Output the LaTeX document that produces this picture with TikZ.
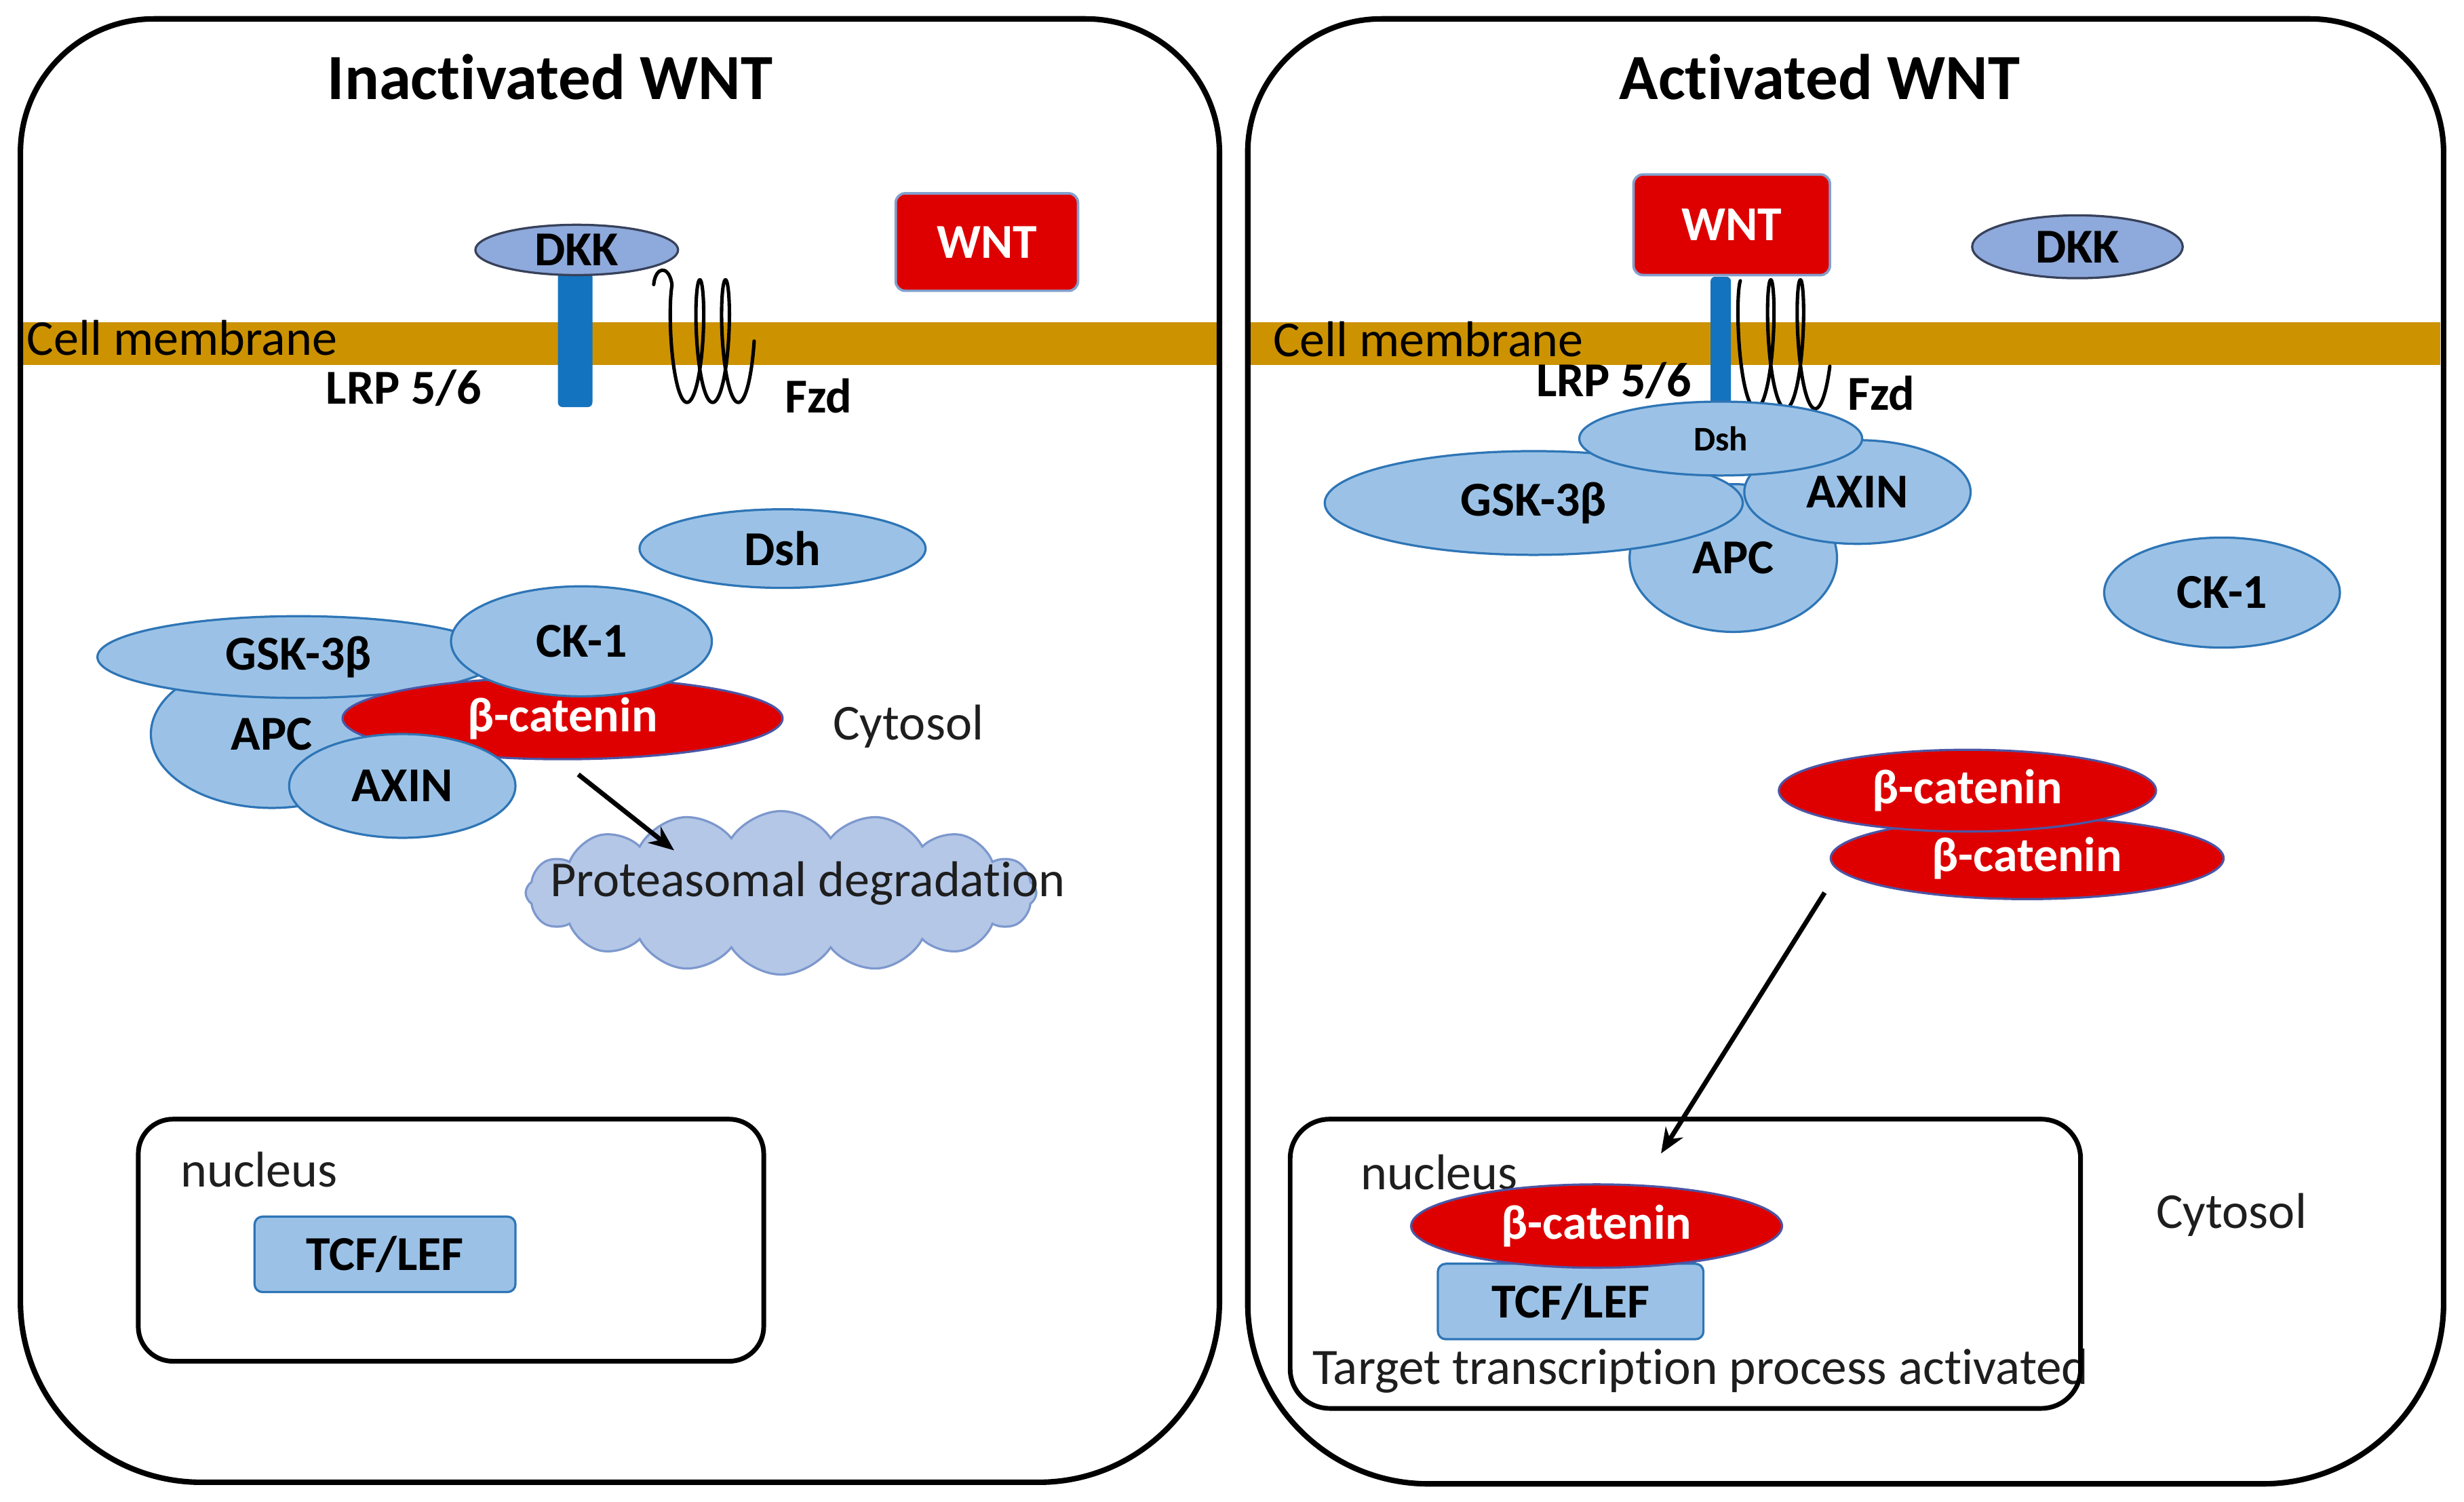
\documentclass[tikz,border=0pt]{standalone}
\usepackage{fontspec}
\setmainfont{Carlito}[Ligatures=NoCommon]
\usetikzlibrary{shapes.geometric,shapes.symbols,arrows.meta,calc}
\definecolor{memb}{RGB}{204,146,0}
\definecolor{protfill}{RGB}{155,194,230}
\definecolor{protline}{RGB}{46,117,182}
\definecolor{dkkfill}{RGB}{142,169,219}
\definecolor{dkkline}{RGB}{55,65,90}
\definecolor{wred}{RGB}{222,0,0}
\definecolor{redline}{RGB}{75,85,165}
\definecolor{wntline}{RGB}{130,160,205}
\definecolor{lrp}{RGB}{20,115,190}
\definecolor{cloudfill}{RGB}{180,199,231}
\definecolor{cloudline}{RGB}{125,152,205}
\definecolor{txt}{RGB}{30,30,30}
\begin{document}
\begin{tikzpicture}[x=1pt,y=-1pt,
 cellbox/.style={line width=3.5pt},
 nucbox/.style={draw, line width=3pt, rounded corners=22pt, inner sep=0pt},
 prot/.style={ellipse, draw=protline, fill=protfill, line width=1.4pt, inner sep=0pt, text=black, font=\bfseries\fontsize{31}{36}\selectfont},
 dkk/.style={ellipse, draw=dkkline, fill=dkkfill, line width=1.4pt, inner sep=0pt, font=\bfseries\fontsize{31}{36}\selectfont},
 bcat/.style={ellipse, draw=redline, fill=wred, line width=1.4pt, inner sep=0pt, text=white, font=\bfseries\fontsize{31}{36}\selectfont},
 wnt/.style={draw=wntline, fill=wred, line width=1.6pt, rounded corners=6pt, inner sep=0pt, text=white, font=\bfseries\fontsize{31}{36}\selectfont},
 tcf/.style={draw=protline, fill=protfill, line width=1.4pt, rounded corners=5pt, inner sep=0pt, font=\bfseries\fontsize{31}{36}\selectfont},
 lbl/.style={inner sep=0pt, font=\bfseries\fontsize{31}{36}\selectfont},
 plain/.style={inner sep=0pt, text=txt, font=\fontsize{32}{36}\selectfont},
 title/.style={inner sep=0pt, font=\bfseries\fontsize{41}{48}\selectfont},
 membrane/.style={fill=memb, draw=none},
 lrpbar/.style={fill=lrp, draw=none, rounded corners=3pt, inner sep=0pt},
 coil/.style={line width=2.2pt, black, line join=round, line cap=round},
 arr/.style={line width=3pt, -{Stealth[length=16pt,width=13pt]}},
]
\useasboundingbox (0,0) rectangle (1568,955.5);
\fill[white] (0,0) rectangle (1568,955.5);

% ================= LEFT CELL =================
\node[title] (t1) at (350,49) {Inactivated WNT};
\fill[membrane] (14,205) rectangle (776,232);
\node[plain, anchor=west, text=black] (cm1) at (17,215) {Cell membrane};
\node[lrpbar, minimum width=22pt, minimum height=86pt] (lrp1) at (366,216) {};
\node[dkk, minimum width=129pt, minimum height=32pt] (dkk1) at (367,159) {DKK};
\draw[coil] (416,181) .. controls (417,170) and (425,168) .. (427.5,180)
  -- plot[domain=25:990, samples=260, smooth] ({429 + 2.6*\x/57.2958 - 6*sin(\x)}, {217 - 39*cos(\x)});
\node[lbl] (lrpl1) at (257,247) {LRP 5/6};
\node[lbl] (fzd1) at (521,252) {Fzd};
\node[wnt, minimum width=116pt, minimum height=62pt] (wnt1) at (628,154) {WNT};
\node[prot, minimum width=182pt, minimum height=50pt] (dsh1) at (498,349) {Dsh};
\node[prot, minimum width=154pt, minimum height=94pt] (apc1) at (173,467) {APC};
\node[prot, minimum width=256pt, minimum height=52pt] (gsk1) at (190,418) {GSK-3β};
\node[bcat, minimum width=280pt, minimum height=52pt] (bcat1) at (358,457) {β-catenin};
\node[prot, minimum width=166pt, minimum height=70pt] (ck1) at (370,408) {CK-1};
\node[prot, minimum width=144pt, minimum height=66pt] (axin1) at (256,500) {AXIN};
\node[plain] (cyt1) at (578,462) {Cytosol};
\node[cloud, cloud puffs=16, cloud puff arc=115, aspect=3.1, draw=cloudline, fill=cloudfill, line width=1.4pt, minimum width=325pt, minimum height=104pt, inner sep=0pt] (cloud1) at (497,568) {};
\node[plain] (deg1) at (514,562) {Proteasomal degradation};
\draw[arr] ([xshift=10pt,yshift=-9pt]bcat1.south) -- ([xshift=-68pt,yshift=27pt]cloud1.center);
\node[nucbox, minimum width=398pt, minimum height=154pt] (nuc1) at (287,789) {};
\node[plain] (nt1) at (165,744) {nucleus};
\node[tcf, minimum width=166pt, minimum height=48pt] (tcf1) at (245,798) {TCF/LEF};
\draw[cellbox] (395,12) [rounded corners=85pt] -- (776,12) -- (776,480) [rounded corners=115pt] -- (776,943) -- (13,943) -- (13,480) [rounded corners=85pt] -- (13,12) -- cycle;

% ================= RIGHT CELL =================
\node[title] (t2) at (1158,49) {Activated WNT};
\fill[membrane] (796,205) rectangle (1553,232);
\node[plain, anchor=west, text=black] (cm2) at (810,216) {Cell membrane};
\node[lrpbar, minimum width=13pt, minimum height=82pt] (lrp2) at (1095,217) {};
\node[wnt, minimum width=125pt, minimum height=64pt] (wnt2) at (1102,143) {WNT};
\draw[coil] plot[domain=10:970, samples=260, smooth] ({1108 + 3.0*\x/57.2958 - 6*sin(\x)}, {219 - 41*cos(\x)});
\node[lbl] (lrpl2) at (1027,242) {LRP 5/6};
\node[lbl] (fzd2) at (1197,250) {Fzd};
\node[dkk, minimum width=134pt, minimum height=40pt] (dkk2) at (1322,157) {DKK};
\node[prot, minimum width=132pt, minimum height=94pt] (apc2) at (1103,355) {APC};
\node[prot, minimum width=144pt, minimum height=66pt] (axin2) at (1182,313) {AXIN};
\node[prot, minimum width=266pt, minimum height=66pt] (gsk2) at (976,320) {GSK-3β};
\node[prot, minimum width=180pt, minimum height=47pt, font=\bfseries\fontsize{22}{26}\selectfont] (dsh2) at (1095,279) {Dsh};
\node[prot, minimum width=150pt, minimum height=70pt] (ck2) at (1414,377) {CK-1};
\node[bcat, minimum width=250pt, minimum height=52pt] (bcat3) at (1290,546) {β-catenin};
\node[bcat, minimum width=240pt, minimum height=52pt] (bcat2) at (1252,503) {β-catenin};
\node[plain] (nt2) at (916,746) {nucleus};
\node[tcf, minimum width=169pt, minimum height=48pt] (tcf2) at (999.5,828) {TCF/LEF};
\node[bcat, minimum width=236pt, minimum height=53pt] (bcatn) at (1016,780) {β-catenin};
\draw[arr] ([xshift=-40pt,yshift=-3pt]bcat3.south west) -- ([xshift=41pt,yshift=19pt]bcatn.north);
\node[plain, anchor=west, font=\fontsize{32.5}{36}\selectfont] (tgt) at (835,872) {Target transcription process activated};
\node[nucbox, rounded corners=25pt, minimum width=503pt, minimum height=184pt] (nuc2) at (1072.5,804) {};
\node[plain] (cyt2) at (1420,773) {Cytosol};
\draw[cellbox] (1175,12) [rounded corners=85pt] -- (1555,12) -- (1555,480) [rounded corners=115pt] -- (1555,944) -- (794,944) -- (794,480) [rounded corners=85pt] -- (794,12) -- cycle;
\end{tikzpicture}
\end{document}
